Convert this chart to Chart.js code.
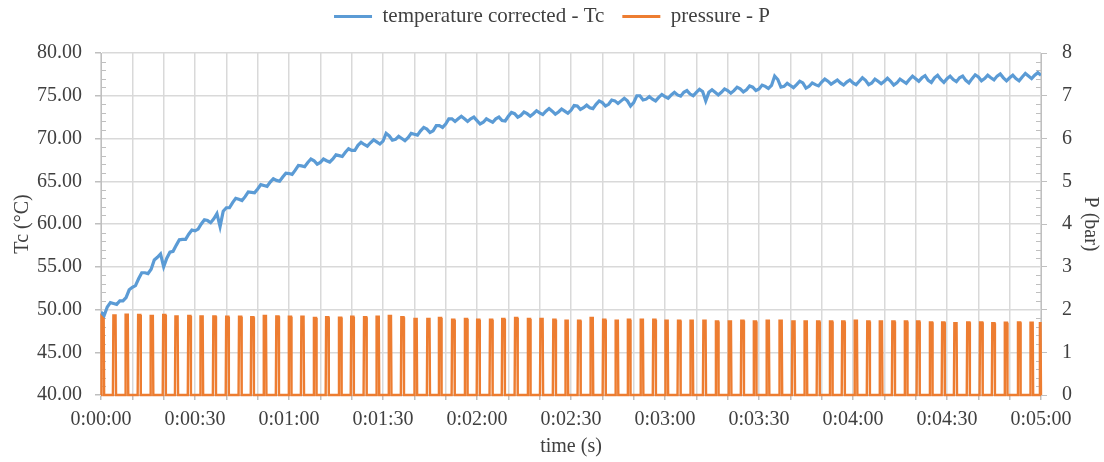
<!DOCTYPE html>
<html>
<head>
<meta charset="utf-8">
<script src="https://cdn.jsdelivr.net/npm/chart.js@4.4.0/dist/chart.umd.min.js"></script>
<style>
  html, body { margin: 0; padding: 0; background: #fff; }
  #wrap { width: 1104px; height: 462px; }
</style>
</head>
<body>
<div id="wrap"><canvas id="chart"></canvas></div>
<script>
const seriesNames = ['temperature corrected - Tc', 'pressure - P'];

// corrected temperature, one reading per second, 0..300 s
const tempValues = [
  49.7, 49.3, 50.3, 50.8, 50.7, 50.6, 51.0, 51.0, 51.4, 52.3,
  52.6, 52.8, 53.6, 54.3, 54.3, 54.2, 54.7, 55.8, 56.1, 56.5,
  55.0, 56.0, 56.7, 56.8, 57.5, 58.15, 58.2, 58.2, 58.8, 59.3,
  59.2, 59.4, 60.0, 60.5, 60.4, 60.15, 60.6, 61.2, 59.7, 61.5,
  61.9, 61.9, 62.5, 63.0, 62.9, 62.75, 63.2, 63.75, 63.7, 63.65,
  64.1, 64.6, 64.5, 64.4, 64.9, 65.3, 65.1, 65.0, 65.5, 65.95,
  65.9, 65.8, 66.3, 66.85, 66.8, 66.7, 67.2, 67.6, 67.4, 67.0,
  67.2, 67.6, 67.4, 67.25, 67.6, 68.1, 68.0, 67.9, 68.4, 68.8,
  68.6, 68.6, 69.2, 69.55, 69.3, 69.1, 69.5, 69.85, 69.6, 69.35,
  69.7, 70.6, 70.3, 69.8, 69.9, 70.25, 70.0, 69.75, 70.1, 70.6,
  70.5, 70.4, 70.9, 71.3, 71.1, 70.7, 70.9, 71.5, 71.5, 71.3,
  71.7, 72.3, 72.3, 72.0, 72.3, 72.6, 72.3, 72.0, 72.3, 72.5,
  72.1, 71.7, 71.9, 72.3, 72.1, 71.9, 72.3, 72.5, 72.1, 72.05,
  72.6, 73.05, 72.9, 72.5, 72.7, 73.1, 72.9, 72.6, 72.9, 73.25,
  73.0, 72.8, 73.2, 73.5, 73.2, 72.85, 73.1, 73.45, 73.2, 72.95,
  73.3, 73.85, 73.8, 73.4, 73.6, 73.9, 73.6, 73.5, 74.0, 74.4,
  74.2, 73.8, 74.0, 74.5, 74.4, 74.1, 74.4, 74.7, 74.4, 73.8,
  74.2, 75.0, 75.0, 74.5, 74.6, 74.9, 74.6, 74.4, 74.8, 75.15,
  74.9, 74.7, 75.1, 75.4, 75.1, 74.95, 75.4, 75.6, 75.2, 75.0,
  75.4, 75.75, 75.5, 74.4, 75.4, 75.7, 75.4, 75.1, 75.4, 75.8,
  75.6, 75.3, 75.6, 76.0, 75.8, 75.45, 75.7, 76.15, 76.0, 75.6,
  75.8, 76.25, 76.1, 75.85, 76.2, 77.3, 76.9, 76.0, 76.1, 76.45,
  76.2, 75.95, 76.3, 76.7, 76.5, 75.9, 76.1, 76.5, 76.3, 76.15,
  76.6, 76.95, 76.7, 76.35, 76.6, 76.85, 76.5, 76.25, 76.6, 76.85,
  76.5, 76.3, 76.7, 77.1, 76.8, 76.3, 76.5, 76.95, 76.7, 76.4,
  76.7, 77.05, 76.7, 76.25, 76.5, 76.95, 76.7, 76.45, 76.9, 77.3,
  77.0, 76.7, 77.1, 77.35, 76.8, 76.55, 77.1, 77.4, 76.9, 76.55,
  77.0, 77.3, 76.9, 76.65, 77.1, 77.3, 76.8, 76.5, 77.0, 77.45,
  77.2, 76.75, 77.0, 77.4, 77.1, 76.85, 77.3, 77.55, 77.1, 76.75,
  77.1, 77.4, 77.0, 76.75, 77.2, 77.6, 77.3, 77.0, 77.4, 77.7,
  77.4
];

// pressure pulses: centre time (s) and peak (bar)
const pulseTimes = [
  0.5, 4.3, 8.2, 12.2, 16.2, 20.2, 24.1, 28.2, 32.1, 36.2,
  40.3, 44.4, 48.3, 52.3, 56.3, 60.3, 64.3, 68.3, 72.2, 76.3,
  80.2, 84.3, 88.3, 92.2, 96.2, 100.4, 104.5, 108.2, 112.4, 116.5,
  120.4, 124.5, 128.4, 132.5, 136.6, 140.6, 144.7, 148.6, 152.6, 156.6,
  160.6, 164.6, 168.5, 172.6, 176.6, 180.5, 184.5, 188.5, 192.6, 196.6,
  200.7, 204.7, 208.7, 212.8, 216.9, 221.0, 224.9, 228.9, 233.0, 236.9,
  240.9, 244.9, 248.9, 252.9, 256.9, 260.8, 264.9, 268.8, 272.7, 276.8,
  280.9, 284.8, 288.8, 293.0, 297.0, 300.0
];
const pulsePeaks = [
  1.88, 1.86, 1.88, 1.87, 1.85, 1.87, 1.84, 1.85, 1.84, 1.84,
  1.83, 1.83, 1.82, 1.85, 1.84, 1.83, 1.83, 1.80, 1.82, 1.81,
  1.83, 1.82, 1.83, 1.85, 1.82, 1.78, 1.78, 1.80, 1.76, 1.78,
  1.76, 1.76, 1.78, 1.80, 1.78, 1.78, 1.76, 1.74, 1.74, 1.80,
  1.76, 1.74, 1.76, 1.76, 1.76, 1.74, 1.74, 1.74, 1.74, 1.72,
  1.72, 1.74, 1.72, 1.74, 1.74, 1.72, 1.72, 1.72, 1.72, 1.72,
  1.74, 1.72, 1.72, 1.72, 1.72, 1.72, 1.70, 1.70, 1.68, 1.70,
  1.70, 1.68, 1.69, 1.70, 1.69, 1.68
];

const timeLabels = ['0:00:00', '0:00:30', '0:01:00', '0:01:30', '0:02:00', '0:02:30',
  '0:03:00', '0:03:30', '0:04:00', '0:04:30', '0:05:00'];

const tempData = tempValues.map((v, i) => ({ x: i, y: v }));
const pressData = [];
pulseTimes.forEach((t, i) => {
  const p = pulsePeaks[i];
  const x0 = Math.max(0, t - 0.5), x1 = Math.min(300, t + 0.5);
  pressData.push({ x: x0, y: 0 }, { x: x0 + 0.15, y: p }, { x: x1 - 0.15, y: p }, { x: x1, y: 0 });
});

const textColor = '#404040';
const gridColor = '#d9d9d9';
const axisColor = '#bfbfbf';
const serif = "'Liberation Serif', 'Times New Roman', serif";
const font20 = { family: serif, size: 20 };

// small minor tick marks inside the plot on both value axes
const minorTicks = {
  id: 'minorTicks',
  beforeDatasetsDraw(chart) {
    const { ctx, chartArea, scales } = chart;
    ctx.save();
    ctx.strokeStyle = axisColor;
    ctx.lineWidth = 1;
    ctx.beginPath();
    for (let v = 40; v < 80; v++) {
      if (v % 5 === 0) continue;
      const y = Math.round(scales.y.getPixelForValue(v)) + 0.5;
      ctx.moveTo(chartArea.left, y);
      ctx.lineTo(chartArea.left + 5, y);
    }
    for (let k = 0; k < 40; k++) {
      if (k % 5 === 0) continue;
      const y = Math.round(scales.y1.getPixelForValue(k / 5)) + 0.5;
      ctx.moveTo(chartArea.right - 5, y);
      ctx.lineTo(chartArea.right, y);
    }
    ctx.stroke();
    ctx.restore();
  }
};

// legend: fixed height of 53px, drawn a bit higher than its padding would put it
const legendBox = {
  id: 'legendBox',
  beforeInit(chart) {
    const fit = chart.legend.fit;
    chart.legend.fit = function () {
      fit.bind(chart.legend)();
      this.height = 53;
    };
  },
  beforeDraw(chart) {
    chart.legend.top = -12;
  }
};

new Chart(document.getElementById('chart'), {
  type: 'line',
  data: {
    datasets: [
      {
        label: seriesNames[0],
        data: tempData,
        yAxisID: 'y',
        borderColor: '#5b9bd5',
        backgroundColor: '#5b9bd5',
        borderWidth: 3.2,
        pointRadius: 0,
        tension: 0
      },
      {
        label: seriesNames[1],
        data: pressData,
        yAxisID: 'y1',
        borderColor: '#ed7d31',
        backgroundColor: '#ed7d31',
        borderWidth: 2.4,
        pointRadius: 0,
        tension: 0,
        clip: false
      }
    ]
  },
  options: {
    responsive: true,
    maintainAspectRatio: false,
    animation: false,
    events: [],
    layout: { padding: 0 },
    plugins: {
      tooltip: { enabled: false },
      legend: {
        position: 'top',
        labels: {
          boxWidth: 38,
          boxHeight: 3,
          padding: 18,
          color: textColor,
          font: { family: serif, size: 21 },
          generateLabels: chart => Chart.defaults.plugins.legend.labels.generateLabels(chart)
            .map(l => ({ ...l, lineWidth: 0 }))
        }
      }
    },
    scales: {
      x: {
        type: 'linear',
        min: 0,
        max: 300,
        afterFit: s => { s.height = 67; },
        ticks: {
          stepSize: 10,
          autoSkip: false,
          maxRotation: 0,
          color: textColor,
          font: font20,
          padding: 8,
          callback: v => (v % 30 === 0 ? timeLabels[v / 30] : '')
        },
        grid: { color: gridColor, lineWidth: 1.5, tickLength: 5, tickColor: axisColor },
        border: { color: axisColor },
        title: { display: true, text: 'time (s)', color: textColor, font: font20, padding: { top: 4, bottom: 3 } }
      },
      y: {
        position: 'left',
        min: 40,
        max: 80,
        afterFit: s => { s.width = 101; },
        ticks: { stepSize: 5, color: textColor, font: font20, padding: 13, callback: v => v.toFixed(2) },
        grid: { color: gridColor, lineWidth: 1.5, tickLength: 6, tickColor: axisColor },
        border: { color: axisColor },
        title: { display: true, text: 'Tc (°C)', color: textColor, font: font20, padding: { top: 11, bottom: 4 } }
      },
      y1: {
        position: 'right',
        min: 0,
        max: 8,
        afterFit: s => { s.width = 63; },
        ticks: { stepSize: 1, color: textColor, font: font20, padding: 15 },
        grid: { drawOnChartArea: false, tickLength: 6, tickColor: axisColor },
        border: { color: axisColor },
        title: { display: true, text: 'P (bar)', color: textColor, font: font20, padding: { top: 2, bottom: 4 } }
      }
    }
  },
  plugins: [minorTicks, legendBox]
});
</script>
</body>
</html>
